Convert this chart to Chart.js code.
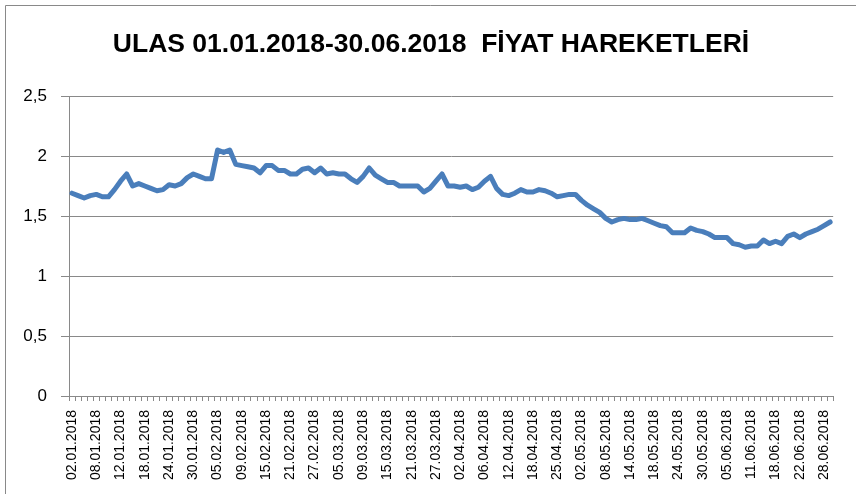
<!DOCTYPE html>
<html>
<head>
<meta charset="utf-8">
<script src="https://cdn.jsdelivr.net/npm/chart.js@4/dist/chart.umd.min.js"></script>
<style>
  html, body { margin: 0; padding: 0; background: #fff; }
  #grafik { display: block; }
</style>
</head>
<body>
<canvas id="grafik" width="856" height="494"></canvas>
<script>
// islem gunleri (02.01.2018 - 29.06.2018)
const tarihler = [
  "02.01.2018","03.01.2018","04.01.2018","05.01.2018","08.01.2018","09.01.2018","10.01.2018","11.01.2018","12.01.2018",
  "15.01.2018","16.01.2018","17.01.2018","18.01.2018","19.01.2018","22.01.2018","23.01.2018","24.01.2018","25.01.2018",
  "26.01.2018","29.01.2018","30.01.2018","31.01.2018",
  "01.02.2018","02.02.2018","05.02.2018","06.02.2018","07.02.2018","08.02.2018","09.02.2018","12.02.2018","13.02.2018",
  "14.02.2018","15.02.2018","16.02.2018","19.02.2018","20.02.2018","21.02.2018","22.02.2018","23.02.2018","26.02.2018",
  "27.02.2018","28.02.2018",
  "01.03.2018","02.03.2018","05.03.2018","06.03.2018","07.03.2018","08.03.2018","09.03.2018","12.03.2018","13.03.2018",
  "14.03.2018","15.03.2018","16.03.2018","19.03.2018","20.03.2018","21.03.2018","22.03.2018","23.03.2018","26.03.2018",
  "27.03.2018","28.03.2018","29.03.2018","30.03.2018",
  "02.04.2018","03.04.2018","04.04.2018","05.04.2018","06.04.2018","09.04.2018","10.04.2018","11.04.2018","12.04.2018",
  "13.04.2018","16.04.2018","17.04.2018","18.04.2018","19.04.2018","20.04.2018","24.04.2018","25.04.2018","26.04.2018",
  "27.04.2018","30.04.2018",
  "02.05.2018","03.05.2018","04.05.2018","07.05.2018","08.05.2018","09.05.2018","10.05.2018","11.05.2018","14.05.2018",
  "15.05.2018","16.05.2018","17.05.2018","18.05.2018","21.05.2018","22.05.2018","23.05.2018","24.05.2018","25.05.2018",
  "28.05.2018","29.05.2018","30.05.2018","31.05.2018",
  "01.06.2018","04.06.2018","05.06.2018","06.06.2018","07.06.2018","08.06.2018","11.06.2018","12.06.2018","13.06.2018",
  "14.06.2018","18.06.2018","19.06.2018","20.06.2018","21.06.2018","22.06.2018","25.06.2018","26.06.2018","27.06.2018",
  "28.06.2018","29.06.2018"
];

// eksende yazilan tarihler
const gosterilenTarihler = [
  "02.01.2018","08.01.2018","12.01.2018","18.01.2018","24.01.2018","30.01.2018","05.02.2018","09.02.2018",
  "15.02.2018","21.02.2018","27.02.2018","05.03.2018","09.03.2018","15.03.2018","21.03.2018","27.03.2018",
  "02.04.2018","06.04.2018","12.04.2018","18.04.2018","25.04.2018","02.05.2018","08.05.2018","14.05.2018",
  "18.05.2018","24.05.2018","30.05.2018","05.06.2018","11.06.2018","18.06.2018","22.06.2018","28.06.2018"
];

// kapanis fiyatlari
const fiyatlar = [
  1.69, 1.67, 1.65, 1.67, 1.68, 1.66, 1.66, 1.72, 1.79, 1.85,
  1.75, 1.77, 1.75, 1.73, 1.71, 1.72, 1.76, 1.75, 1.77, 1.82,
  1.85, 1.83, 1.81, 1.81, 2.05, 2.03, 2.05, 1.93, 1.92, 1.91,
  1.90, 1.86, 1.92, 1.92, 1.88, 1.88, 1.85, 1.85, 1.89, 1.90,
  1.86, 1.90, 1.85, 1.86, 1.85, 1.85, 1.81, 1.78, 1.83, 1.90,
  1.84, 1.81, 1.78, 1.78, 1.75, 1.75, 1.75, 1.75, 1.70, 1.73,
  1.79, 1.85, 1.75, 1.75, 1.74, 1.75, 1.72, 1.74, 1.79, 1.83,
  1.73, 1.68, 1.67, 1.69, 1.72, 1.70, 1.70, 1.72, 1.71, 1.69,
  1.66, 1.67, 1.68, 1.68, 1.63, 1.59, 1.56, 1.53, 1.48, 1.45,
  1.47, 1.48, 1.47, 1.47, 1.48, 1.46, 1.44, 1.42, 1.41, 1.36,
  1.36, 1.36, 1.40, 1.38, 1.37, 1.35, 1.32, 1.32, 1.32, 1.27,
  1.26, 1.24, 1.25, 1.25, 1.30, 1.27, 1.29, 1.27, 1.33, 1.35,
  1.32, 1.35, 1.37, 1.39, 1.42, 1.45
];

const yEksenMin = 0;
const yEksenMax = 2.5;
const yAdim = 0.5;

const gri = "#898989";
const yazi = "'Liberation Sans', Arial, sans-serif";

// sol ve ust cerceve cizgisi
const cerceve = {
  id: "cerceve",
  beforeDraw(chart) {
    const ctx = chart.ctx;
    ctx.save();
    ctx.strokeStyle = gri;
    ctx.lineWidth = 1;
    ctx.beginPath();
    ctx.moveTo(5.5, chart.height);
    ctx.lineTo(5.5, 5.5);
    ctx.lineTo(chart.width, 5.5);
    ctx.stroke();
    ctx.restore();
  },
};

new Chart(document.getElementById("grafik"), {
  type: "line",
  data: {
    labels: tarihler,
    datasets: [
      {
        label: "ULAS",
        data: fiyatlar,
        borderColor: "#4a7ebb",
        borderWidth: 5,
        borderJoinStyle: "round",
        borderCapStyle: "round",
        pointRadius: 0,
        tension: 0,
        fill: false,
      },
    ],
  },
  options: {
    responsive: false,
    animation: false,
    layout: { padding: { left: 23, right: 17, top: 0, bottom: 0 } },
    plugins: {
      legend: { display: false },
      tooltip: { enabled: false },
      title: {
        display: true,
        text: "ULAS 01.01.2018-30.06.2018  FİYAT HAREKETLERİ",
        color: "#000",
        font: { family: yazi, size: 26.5, weight: "bold" },
        padding: { top: 29, bottom: 35.2 },
      },
    },
    scales: {
      x: {
        offset: true,
        grid: {
          offset: true,
          drawOnChartArea: false,
          drawTicks: true,
          tickLength: 5,
          color: gri,
        },
        border: { color: gri, width: 1 },
        ticks: {
          autoSkip: false,
          minRotation: 90,
          maxRotation: 90,
          padding: 9,
          color: "#000",
          font: { family: yazi, size: 14 },
          callback: function (value, index) {
            const t = tarihler[index];
            return gosterilenTarihler.includes(t) ? t : "";
          },
        },
        afterFit(scale) {
          scale.height = 98;
        },
      },
      y: {
        min: yEksenMin,
        max: yEksenMax,
        grid: {
          color: gri,
          tickLength: 8,
          drawTicks: true,
        },
        border: { color: gri, width: 1 },
        ticks: {
          stepSize: yAdim,
          padding: 14,
          color: "#000",
          font: { family: yazi, size: 17 },
          callback: (v) => String(v).replace(".", ","),
        },
        afterFit(scale) {
          scale.width = 46;
        },
      },
    },
  },
  plugins: [cerceve],
});
</script>
</body>
</html>
